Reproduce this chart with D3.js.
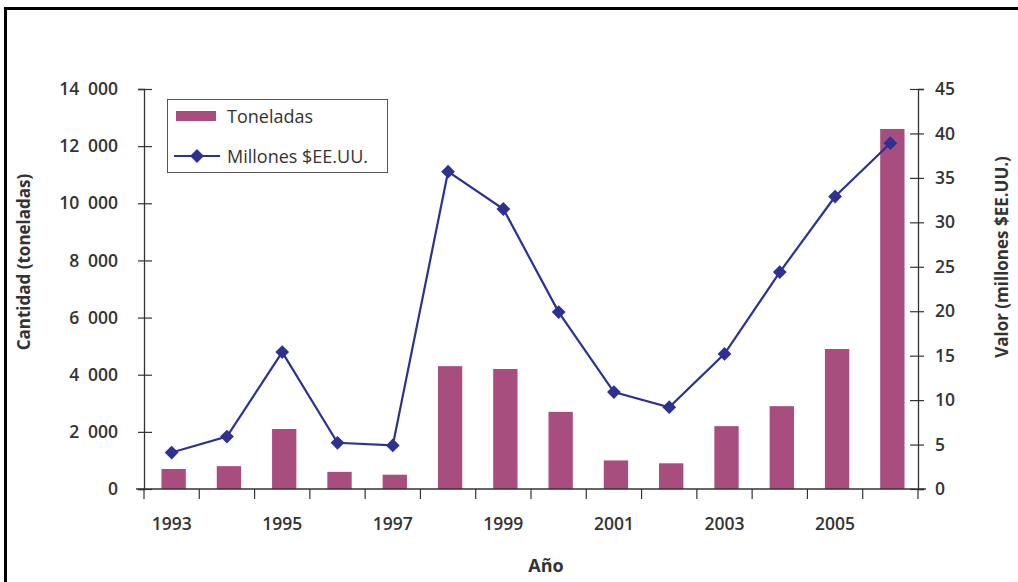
<!DOCTYPE html>
<html>
<head>
<meta charset="utf-8">
<script src="https://cdn.jsdelivr.net/npm/d3@7"></script>
<style>
  body { margin: 0; background: #fff; }
  text { font-family: "Open Sans", sans-serif; fill: #333; }
</style>
</head>
<body>
<div id="chart"></div>
<script>
// data
var years = [1993, 1994, 1995, 1996, 1997, 1998, 1999, 2000, 2001, 2002, 2003, 2004, 2005, 2006];
var toneladas = [700, 800, 2100, 600, 500, 4300, 4200, 2700, 1000, 900, 2200, 2900, 4900, 12600];
var millones = [4.1, 5.9, 15.4, 5.2, 4.9, 35.7, 31.5, 19.9, 10.9, 9.2, 15.2, 24.4, 32.9, 38.9];
var leftTicks = [0, 2000, 4000, 6000, 8000, 10000, 12000, 14000];
var rightTicks = [0, 5, 10, 15, 20, 25, 30, 35, 40, 45];
var yearLabels = [1993, 1995, 1997, 1999, 2001, 2003, 2005];

var W = 1018, H = 582;
var margin = {top: 89, right: 100, bottom: 93, left: 144};
var width = W - margin.left - margin.right;   // 774
var height = H - margin.top - margin.bottom;  // 400

var barColor = "#a84e7e";
var lineColor = "#2e3192";
var tickFont = 17.5;

var loc = d3.formatLocale({decimal: ",", thousands: "\u2002", grouping: [3], currency: ["", ""]});
var fmt = loc.format(",d");

var svg = d3.select("#chart").append("svg")
    .attr("width", W)
    .attr("height", H);

// outer frame (runs off right and bottom)
svg.append("path")
    .attr("d", "M5.5,1100 V8.5 H1100")
    .attr("fill", "none")
    .attr("stroke", "#000")
    .attr("stroke-width", 3);

var g = svg.append("g")
    .attr("transform", "translate(" + margin.left + "," + margin.top + ")");

var x = d3.scaleBand()
    .domain(years)
    .range([0, width])
    .paddingInner(0.56)
    .paddingOuter(0.28);

var yL = d3.scaleLinear().domain([0, 14000]).range([height, 0]);
var yR = d3.scaleLinear().domain([0, 45]).range([height, 0]);

var cx = function(d) { return x(d) + x.bandwidth() / 2; };

// bars
g.append("g")
    .selectAll("rect")
    .data(years)
    .enter().append("rect")
    .attr("x", function(d) { return x(d) + 2; })
    .attr("y", function(d, i) { return yL(toneladas[i]); })
    .attr("width", x.bandwidth())
    .attr("height", function(d, i) { return height - yL(toneladas[i]); })
    .attr("fill", barColor);

function styleTicks(sel) {
    sel.selectAll(".tick text")
        .attr("font-size", tickFont)
        .attr("font-weight", 600)
        .style("font-family", "'Open Sans', sans-serif")
        .attr("fill", "#333");
}

// left axis
var axL = g.append("g")
    .call(d3.axisLeft(yL).tickValues(leftTicks).tickFormat(fmt).tickSize(6).tickPadding(20));
axL.select(".domain").attr("stroke", "#333").attr("stroke-width", 1.3);
axL.selectAll(".tick line").attr("x2", -6).attr("x1", 8).attr("stroke", "#333").attr("stroke-width", 1.2);
styleTicks(axL);

// right axis
var axR = g.append("g")
    .attr("transform", "translate(" + width + ",0)")
    .call(d3.axisRight(yR).tickValues(rightTicks).tickSize(6).tickPadding(11));
axR.select(".domain").attr("stroke", "#333").attr("stroke-width", 1.3);
axR.selectAll(".tick line").attr("x1", -8).attr("stroke", "#333").attr("stroke-width", 1.2);
styleTicks(axR);

// bottom axis: labels on every other year, ticks at category boundaries
var axB = g.append("g")
    .attr("transform", "translate(0," + height + ")")
    .call(d3.axisBottom(x).tickValues(yearLabels).tickSize(0).tickPadding(29));
axB.select(".domain").remove();
styleTicks(axB);

g.append("line")
    .attr("x1", -8).attr("x2", width + 8)
    .attr("y1", height).attr("y2", height)
    .attr("stroke", "#333").attr("stroke-width", 1.3);

var step = x.step();
g.append("g")
    .selectAll("line")
    .data(d3.range(years.length + 1))
    .enter().append("line")
    .attr("x1", function(i) { return i * step; })
    .attr("x2", function(i) { return i * step; })
    .attr("y1", height)
    .attr("y2", height + 10)
    .attr("stroke", "#333")
    .attr("stroke-width", 1.2);

// line series
var line = d3.line()
    .x(function(d, i) { return cx(years[i]); })
    .y(function(d) { return yR(d); });

g.append("path")
    .datum(millones)
    .attr("d", line)
    .attr("fill", "none")
    .attr("stroke", lineColor)
    .attr("stroke-width", 2.2);

var diamond = d3.symbol().type(d3.symbolSquare).size(95);
g.append("g")
    .selectAll("path")
    .data(millones)
    .enter().append("path")
    .attr("d", diamond)
    .attr("transform", function(d, i) {
        return "translate(" + cx(years[i]) + "," + yR(d) + ") rotate(45)";
    })
    .attr("fill", lineColor);

// axis titles
svg.append("text")
    .attr("transform", "translate(30,262) rotate(-90)")
    .attr("text-anchor", "middle")
    .attr("font-size", 17)
    .attr("font-weight", 700)
    .text("Cantidad (toneladas)");

svg.append("text")
    .attr("transform", "translate(1008,257) rotate(-90)")
    .attr("text-anchor", "middle")
    .attr("font-size", 17)
    .attr("font-weight", 700)
    .text("Valor (millones $EE.UU.)");

svg.append("text")
    .attr("x", 546)
    .attr("y", 572)
    .attr("text-anchor", "middle")
    .attr("font-size", 18)
    .attr("font-weight", 700)
    .text("Año");

// legend
var lg = svg.append("g").attr("transform", "translate(167,99)");
lg.append("rect")
    .attr("x", 0.5).attr("y", 0.5)
    .attr("width", 220).attr("height", 73)
    .attr("fill", "#fff")
    .attr("stroke", "#555")
    .attr("stroke-width", 1);
lg.append("rect")
    .attr("x", 9).attr("y", 12)
    .attr("width", 40).attr("height", 10)
    .attr("fill", barColor);
lg.append("text")
    .attr("x", 60).attr("y", 24)
    .attr("font-size", 18)
    .attr("font-weight", 500)
    .text("Toneladas");
lg.append("line")
    .attr("x1", 7).attr("x2", 53)
    .attr("y1", 57).attr("y2", 57)
    .attr("stroke", lineColor)
    .attr("stroke-width", 2);
lg.append("path")
    .attr("d", diamond)
    .attr("transform", "translate(30,57) rotate(45)")
    .attr("fill", lineColor);
lg.append("text")
    .attr("x", 60).attr("y", 64)
    .attr("font-size", 18)
    .attr("font-weight", 500)
    .text("Millones $EE.UU.");
</script>
</body>
</html>
